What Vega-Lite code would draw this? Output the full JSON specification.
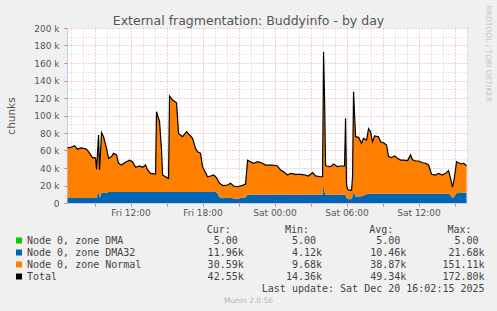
{
  "$schema": "https://vega.github.io/schema/vega-lite/v6.json",
  "width": 400,
  "height": 175,
  "autosize": {"type": "none"},
  "padding": {"left": 67, "top": 28, "right": 30, "bottom": 108},
  "background": "#F0F0F0",
  "config": {"view": {"fill": "#FFFFFF", "stroke": null}, "font": "DejaVu Sans"},
  "title": {"text": "External fragmentation: Buddyinfo - by day", "font": "DejaVu Sans", "fontSize": 12.5, "fontWeight": "normal", "color": "#555555", "anchor": "middle", "dx": -18.5, "offset": 0, "dy": 22.5},
  "datasets": {
    "buddy": [
      {"t": "2025-12-19T06:45", "DMA": 5, "DMA32": 5700, "Normal": 57295, "Total": 63000},
      {"t": "2025-12-19T07:00", "DMA": 5, "DMA32": 5700, "Normal": 57795, "Total": 63500},
      {"t": "2025-12-19T07:20", "DMA": 5, "DMA32": 5700, "Normal": 59795, "Total": 65500},
      {"t": "2025-12-19T07:35", "DMA": 5, "DMA32": 5700, "Normal": 55795, "Total": 61500},
      {"t": "2025-12-19T07:50", "DMA": 5, "DMA32": 5700, "Normal": 57295, "Total": 63000},
      {"t": "2025-12-19T08:05", "DMA": 5, "DMA32": 5700, "Normal": 56795, "Total": 62500},
      {"t": "2025-12-19T08:20", "DMA": 5, "DMA32": 5700, "Normal": 55795, "Total": 61500},
      {"t": "2025-12-19T08:35", "DMA": 5, "DMA32": 5700, "Normal": 51295, "Total": 57000},
      {"t": "2025-12-19T08:50", "DMA": 5, "DMA32": 5700, "Normal": 45795, "Total": 51500},
      {"t": "2025-12-19T09:00", "DMA": 5, "DMA32": 5700, "Normal": 46295, "Total": 52000},
      {"t": "2025-12-19T09:05", "DMA": 5, "DMA32": 5700, "Normal": 45295, "Total": 51000},
      {"t": "2025-12-19T09:10", "DMA": 5, "DMA32": 5700, "Normal": 32795, "Total": 38500},
      {"t": "2025-12-19T09:20", "DMA": 5, "DMA32": 13700, "Normal": 63995, "Total": 77700},
      {"t": "2025-12-19T09:25", "DMA": 5, "DMA32": 6000, "Normal": 31695, "Total": 37700},
      {"t": "2025-12-19T09:35", "DMA": 5, "DMA32": 11400, "Normal": 68995, "Total": 80400},
      {"t": "2025-12-19T09:45", "DMA": 5, "DMA32": 11400, "Normal": 64395, "Total": 75800},
      {"t": "2025-12-19T10:00", "DMA": 5, "DMA32": 11400, "Normal": 51095, "Total": 62500},
      {"t": "2025-12-19T10:10", "DMA": 5, "DMA32": 12600, "Normal": 38395, "Total": 51000},
      {"t": "2025-12-19T10:25", "DMA": 5, "DMA32": 12600, "Normal": 40395, "Total": 53000},
      {"t": "2025-12-19T10:35", "DMA": 5, "DMA32": 12600, "Normal": 44195, "Total": 56800},
      {"t": "2025-12-19T10:50", "DMA": 5, "DMA32": 12600, "Normal": 42395, "Total": 55000},
      {"t": "2025-12-19T11:00", "DMA": 5, "DMA32": 12600, "Normal": 32795, "Total": 45400},
      {"t": "2025-12-19T11:15", "DMA": 5, "DMA32": 12600, "Normal": 30795, "Total": 43400},
      {"t": "2025-12-19T11:30", "DMA": 5, "DMA32": 12600, "Normal": 33395, "Total": 46000},
      {"t": "2025-12-19T11:55", "DMA": 5, "DMA32": 12600, "Normal": 36395, "Total": 49000},
      {"t": "2025-12-19T12:10", "DMA": 5, "DMA32": 12600, "Normal": 34595, "Total": 47200},
      {"t": "2025-12-19T12:25", "DMA": 5, "DMA32": 12600, "Normal": 28195, "Total": 40800},
      {"t": "2025-12-19T12:45", "DMA": 5, "DMA32": 12600, "Normal": 29695, "Total": 42300},
      {"t": "2025-12-19T13:00", "DMA": 5, "DMA32": 12600, "Normal": 28195, "Total": 40800},
      {"t": "2025-12-19T13:15", "DMA": 5, "DMA32": 12600, "Normal": 30795, "Total": 43400},
      {"t": "2025-12-19T13:25", "DMA": 5, "DMA32": 12600, "Normal": 25095, "Total": 37700},
      {"t": "2025-12-19T13:40", "DMA": 5, "DMA32": 12600, "Normal": 21295, "Total": 33900},
      {"t": "2025-12-19T14:05", "DMA": 5, "DMA32": 12600, "Normal": 20395, "Total": 33000},
      {"t": "2025-12-19T14:10", "DMA": 5, "DMA32": 12600, "Normal": 91795, "Total": 104400},
      {"t": "2025-12-19T14:25", "DMA": 5, "DMA32": 12600, "Normal": 80395, "Total": 93000},
      {"t": "2025-12-19T14:35", "DMA": 5, "DMA32": 12600, "Normal": 47995, "Total": 60600},
      {"t": "2025-12-19T14:40", "DMA": 5, "DMA32": 12600, "Normal": 19395, "Total": 32000},
      {"t": "2025-12-19T15:00", "DMA": 5, "DMA32": 12600, "Normal": 16695, "Total": 29300},
      {"t": "2025-12-19T15:10", "DMA": 5, "DMA32": 12600, "Normal": 15595, "Total": 28200},
      {"t": "2025-12-19T15:15", "DMA": 5, "DMA32": 12600, "Normal": 109695, "Total": 122300},
      {"t": "2025-12-19T15:30", "DMA": 5, "DMA32": 12600, "Normal": 105095, "Total": 117700},
      {"t": "2025-12-19T15:50", "DMA": 5, "DMA32": 12600, "Normal": 101995, "Total": 114600},
      {"t": "2025-12-19T16:00", "DMA": 5, "DMA32": 12600, "Normal": 66995, "Total": 79600},
      {"t": "2025-12-19T16:20", "DMA": 5, "DMA32": 12600, "Normal": 63195, "Total": 75800},
      {"t": "2025-12-19T16:40", "DMA": 5, "DMA32": 12600, "Normal": 68895, "Total": 81500},
      {"t": "2025-12-19T16:55", "DMA": 5, "DMA32": 12600, "Normal": 65095, "Total": 77700},
      {"t": "2025-12-19T17:10", "DMA": 5, "DMA32": 12600, "Normal": 61295, "Total": 73900},
      {"t": "2025-12-19T17:25", "DMA": 5, "DMA32": 12600, "Normal": 49895, "Total": 62500},
      {"t": "2025-12-19T17:35", "DMA": 5, "DMA32": 12600, "Normal": 45995, "Total": 58600},
      {"t": "2025-12-19T17:50", "DMA": 5, "DMA32": 12600, "Normal": 44195, "Total": 56800},
      {"t": "2025-12-19T18:00", "DMA": 5, "DMA32": 12600, "Normal": 28895, "Total": 41500},
      {"t": "2025-12-19T18:25", "DMA": 5, "DMA32": 12600, "Normal": 17395, "Total": 30000},
      {"t": "2025-12-19T18:40", "DMA": 5, "DMA32": 12600, "Normal": 18295, "Total": 30900},
      {"t": "2025-12-19T18:55", "DMA": 5, "DMA32": 12600, "Normal": 19395, "Total": 32000},
      {"t": "2025-12-19T19:05", "DMA": 5, "DMA32": 12600, "Normal": 17395, "Total": 30000},
      {"t": "2025-12-19T19:15", "DMA": 5, "DMA32": 11000, "Normal": 15995, "Total": 27000},
      {"t": "2025-12-19T19:20", "DMA": 5, "DMA32": 8000, "Normal": 15995, "Total": 24000},
      {"t": "2025-12-19T19:30", "DMA": 5, "DMA32": 6000, "Normal": 15695, "Total": 21700},
      {"t": "2025-12-19T19:45", "DMA": 5, "DMA32": 5500, "Normal": 14295, "Total": 19800},
      {"t": "2025-12-19T20:05", "DMA": 5, "DMA32": 6200, "Normal": 14395, "Total": 20600},
      {"t": "2025-12-19T20:20", "DMA": 5, "DMA32": 6500, "Normal": 15995, "Total": 22500},
      {"t": "2025-12-19T20:35", "DMA": 5, "DMA32": 5000, "Normal": 14395, "Total": 19400},
      {"t": "2025-12-19T20:55", "DMA": 5, "DMA32": 4800, "Normal": 13795, "Total": 18600},
      {"t": "2025-12-19T21:20", "DMA": 5, "DMA32": 6000, "Normal": 14195, "Total": 20200},
      {"t": "2025-12-19T21:35", "DMA": 5, "DMA32": 6500, "Normal": 15195, "Total": 21700},
      {"t": "2025-12-19T21:45", "DMA": 5, "DMA32": 9300, "Normal": 39695, "Total": 49000},
      {"t": "2025-12-19T22:00", "DMA": 5, "DMA32": 9300, "Normal": 37895, "Total": 47200},
      {"t": "2025-12-19T22:15", "DMA": 5, "DMA32": 9300, "Normal": 36095, "Total": 45400},
      {"t": "2025-12-19T22:35", "DMA": 5, "DMA32": 9300, "Normal": 37895, "Total": 47200},
      {"t": "2025-12-19T23:00", "DMA": 5, "DMA32": 9300, "Normal": 36095, "Total": 45400},
      {"t": "2025-12-19T23:15", "DMA": 5, "DMA32": 9300, "Normal": 34095, "Total": 43400},
      {"t": "2025-12-19T23:50", "DMA": 5, "DMA32": 9300, "Normal": 34095, "Total": 43400},
      {"t": "2025-12-20T00:15", "DMA": 5, "DMA32": 9300, "Normal": 32995, "Total": 42300},
      {"t": "2025-12-20T00:30", "DMA": 5, "DMA32": 9300, "Normal": 28395, "Total": 37700},
      {"t": "2025-12-20T00:45", "DMA": 5, "DMA32": 9300, "Normal": 26495, "Total": 35800},
      {"t": "2025-12-20T01:05", "DMA": 5, "DMA32": 9300, "Normal": 22695, "Total": 32000},
      {"t": "2025-12-20T01:20", "DMA": 5, "DMA32": 9300, "Normal": 24595, "Total": 33900},
      {"t": "2025-12-20T01:45", "DMA": 5, "DMA32": 9300, "Normal": 23495, "Total": 32800},
      {"t": "2025-12-20T02:10", "DMA": 5, "DMA32": 9300, "Normal": 23495, "Total": 32800},
      {"t": "2025-12-20T02:35", "DMA": 5, "DMA32": 9300, "Normal": 22695, "Total": 32000},
      {"t": "2025-12-20T02:50", "DMA": 5, "DMA32": 9300, "Normal": 21595, "Total": 30900},
      {"t": "2025-12-20T03:10", "DMA": 5, "DMA32": 9300, "Normal": 25395, "Total": 34700},
      {"t": "2025-12-20T03:25", "DMA": 5, "DMA32": 9300, "Normal": 21595, "Total": 30900},
      {"t": "2025-12-20T03:50", "DMA": 5, "DMA32": 9300, "Normal": 20695, "Total": 30000},
      {"t": "2025-12-20T04:00", "DMA": 5, "DMA32": 9300, "Normal": 20695, "Total": 30000},
      {"t": "2025-12-20T04:05", "DMA": 5, "DMA32": 21680, "Normal": 151115, "Total": 172800},
      {"t": "2025-12-20T04:10", "DMA": 5, "DMA32": 12000, "Normal": 107995, "Total": 120000},
      {"t": "2025-12-20T04:15", "DMA": 5, "DMA32": 9500, "Normal": 33495, "Total": 43000},
      {"t": "2025-12-20T04:20", "DMA": 5, "DMA32": 9500, "Normal": 32795, "Total": 42300},
      {"t": "2025-12-20T04:40", "DMA": 5, "DMA32": 9500, "Normal": 31995, "Total": 41500},
      {"t": "2025-12-20T04:55", "DMA": 5, "DMA32": 9500, "Normal": 35095, "Total": 44600},
      {"t": "2025-12-20T05:15", "DMA": 5, "DMA32": 9500, "Normal": 31995, "Total": 41500},
      {"t": "2025-12-20T05:30", "DMA": 5, "DMA32": 9500, "Normal": 32795, "Total": 42300},
      {"t": "2025-12-20T05:50", "DMA": 5, "DMA32": 9500, "Normal": 32795, "Total": 42300},
      {"t": "2025-12-20T05:55", "DMA": 5, "DMA32": 9000, "Normal": 87795, "Total": 96800},
      {"t": "2025-12-20T06:00", "DMA": 5, "DMA32": 6000, "Normal": 13995, "Total": 20000},
      {"t": "2025-12-20T06:05", "DMA": 5, "DMA32": 5000, "Normal": 10995, "Total": 16000},
      {"t": "2025-12-20T06:10", "DMA": 5, "DMA32": 4200, "Normal": 10795, "Total": 15000},
      {"t": "2025-12-20T06:25", "DMA": 5, "DMA32": 4500, "Normal": 9895, "Total": 14400},
      {"t": "2025-12-20T06:30", "DMA": 5, "DMA32": 8000, "Normal": 21995, "Total": 30000},
      {"t": "2025-12-20T06:35", "DMA": 5, "DMA32": 13000, "Normal": 114195, "Total": 127200},
      {"t": "2025-12-20T06:45", "DMA": 5, "DMA32": 7500, "Normal": 68295, "Total": 75800},
      {"t": "2025-12-20T07:00", "DMA": 5, "DMA32": 7500, "Normal": 67495, "Total": 75000},
      {"t": "2025-12-20T07:15", "DMA": 5, "DMA32": 7800, "Normal": 60395, "Total": 68200},
      {"t": "2025-12-20T07:25", "DMA": 5, "DMA32": 8500, "Normal": 65395, "Total": 73900},
      {"t": "2025-12-20T07:40", "DMA": 5, "DMA32": 10000, "Normal": 61995, "Total": 72000},
      {"t": "2025-12-20T07:50", "DMA": 5, "DMA32": 10500, "Normal": 74495, "Total": 85000},
      {"t": "2025-12-20T08:00", "DMA": 5, "DMA32": 10500, "Normal": 70995, "Total": 81500},
      {"t": "2025-12-20T08:10", "DMA": 5, "DMA32": 10500, "Normal": 59495, "Total": 70000},
      {"t": "2025-12-20T08:20", "DMA": 5, "DMA32": 10500, "Normal": 66095, "Total": 76600},
      {"t": "2025-12-20T08:40", "DMA": 5, "DMA32": 10500, "Normal": 65295, "Total": 75800},
      {"t": "2025-12-20T08:50", "DMA": 5, "DMA32": 10500, "Normal": 59495, "Total": 70000},
      {"t": "2025-12-20T09:05", "DMA": 5, "DMA32": 10500, "Normal": 58395, "Total": 68900},
      {"t": "2025-12-20T09:20", "DMA": 5, "DMA32": 10500, "Normal": 55795, "Total": 66300},
      {"t": "2025-12-20T09:30", "DMA": 5, "DMA32": 10500, "Normal": 42495, "Total": 53000},
      {"t": "2025-12-20T09:45", "DMA": 5, "DMA32": 10500, "Normal": 41295, "Total": 51800},
      {"t": "2025-12-20T10:00", "DMA": 5, "DMA32": 10500, "Normal": 43195, "Total": 53700},
      {"t": "2025-12-20T10:15", "DMA": 5, "DMA32": 10500, "Normal": 40495, "Total": 51000},
      {"t": "2025-12-20T10:30", "DMA": 5, "DMA32": 10500, "Normal": 38495, "Total": 49000},
      {"t": "2025-12-20T10:45", "DMA": 5, "DMA32": 10500, "Normal": 38495, "Total": 49000},
      {"t": "2025-12-20T11:05", "DMA": 5, "DMA32": 10500, "Normal": 37895, "Total": 48400},
      {"t": "2025-12-20T11:20", "DMA": 5, "DMA32": 10500, "Normal": 44395, "Total": 54900},
      {"t": "2025-12-20T11:30", "DMA": 5, "DMA32": 10500, "Normal": 38995, "Total": 49500},
      {"t": "2025-12-20T11:45", "DMA": 5, "DMA32": 10500, "Normal": 37495, "Total": 48000},
      {"t": "2025-12-20T12:00", "DMA": 5, "DMA32": 10500, "Normal": 37495, "Total": 48000},
      {"t": "2025-12-20T12:20", "DMA": 5, "DMA32": 10500, "Normal": 35495, "Total": 46000},
      {"t": "2025-12-20T12:35", "DMA": 5, "DMA32": 10500, "Normal": 34895, "Total": 45400},
      {"t": "2025-12-20T12:50", "DMA": 5, "DMA32": 10500, "Normal": 32895, "Total": 43400},
      {"t": "2025-12-20T13:05", "DMA": 5, "DMA32": 10500, "Normal": 22295, "Total": 32800},
      {"t": "2025-12-20T13:25", "DMA": 5, "DMA32": 10500, "Normal": 21495, "Total": 32000},
      {"t": "2025-12-20T13:40", "DMA": 5, "DMA32": 10500, "Normal": 23395, "Total": 33900},
      {"t": "2025-12-20T14:00", "DMA": 5, "DMA32": 10500, "Normal": 21495, "Total": 32000},
      {"t": "2025-12-20T14:15", "DMA": 5, "DMA32": 10500, "Normal": 23395, "Total": 33900},
      {"t": "2025-12-20T14:30", "DMA": 5, "DMA32": 10500, "Normal": 26495, "Total": 37000},
      {"t": "2025-12-20T14:40", "DMA": 5, "DMA32": 9000, "Normal": 19195, "Total": 28200},
      {"t": "2025-12-20T14:50", "DMA": 5, "DMA32": 5400, "Normal": 12595, "Total": 18000},
      {"t": "2025-12-20T15:00", "DMA": 5, "DMA32": 8000, "Normal": 21995, "Total": 30000},
      {"t": "2025-12-20T15:10", "DMA": 5, "DMA32": 11000, "Normal": 36195, "Total": 47200},
      {"t": "2025-12-20T15:20", "DMA": 5, "DMA32": 11300, "Normal": 34695, "Total": 46000},
      {"t": "2025-12-20T15:35", "DMA": 5, "DMA32": 11500, "Normal": 33095, "Total": 44600},
      {"t": "2025-12-20T15:45", "DMA": 5, "DMA32": 11800, "Normal": 33595, "Total": 45400},
      {"t": "2025-12-20T16:00", "DMA": 5, "DMA32": 11960, "Normal": 30585, "Total": 42550}
    ]
  },
  "data": {"name": "buddy"},
  "layer": [
    {
      "transform": [{"fold": ["DMA", "DMA32", "Normal"], "as": ["zone", "chunks"]}],
      "mark": {"type": "area", "interpolate": "linear"},
      "encoding": {
        "x": {
          "field": "t", "type": "temporal",
          "scale": {"domain": [{"year": 2025, "month": 12, "date": 19, "hours": 6, "minutes": 42, "seconds": 15}, {"year": 2025, "month": 12, "date": 20, "hours": 16, "minutes": 2, "seconds": 15}]},
          "axis": {
            "orient": "bottom",
            "values": [
              {"year": 2025, "month": 12, "date": 19, "hours": 7}, {"year": 2025, "month": 12, "date": 19, "hours": 8},
              {"year": 2025, "month": 12, "date": 19, "hours": 10}, {"year": 2025, "month": 12, "date": 19, "hours": 11},
              {"year": 2025, "month": 12, "date": 19, "hours": 13}, {"year": 2025, "month": 12, "date": 19, "hours": 14},
              {"year": 2025, "month": 12, "date": 19, "hours": 16}, {"year": 2025, "month": 12, "date": 19, "hours": 17},
              {"year": 2025, "month": 12, "date": 19, "hours": 19}, {"year": 2025, "month": 12, "date": 19, "hours": 20},
              {"year": 2025, "month": 12, "date": 19, "hours": 22}, {"year": 2025, "month": 12, "date": 19, "hours": 23},
              {"year": 2025, "month": 12, "date": 20, "hours": 1}, {"year": 2025, "month": 12, "date": 20, "hours": 2},
              {"year": 2025, "month": 12, "date": 20, "hours": 4}, {"year": 2025, "month": 12, "date": 20, "hours": 5},
              {"year": 2025, "month": 12, "date": 20, "hours": 7}, {"year": 2025, "month": 12, "date": 20, "hours": 8},
              {"year": 2025, "month": 12, "date": 20, "hours": 10}, {"year": 2025, "month": 12, "date": 20, "hours": 11},
              {"year": 2025, "month": 12, "date": 20, "hours": 13}, {"year": 2025, "month": 12, "date": 20, "hours": 14},
              {"year": 2025, "month": 12, "date": 20, "hours": 16}
            ],
            "grid": true, "gridColor": "#CFCFCF", "gridDash": [1, 2],
            "labels": false, "ticks": false, "domain": false,
            "title": "Munin 2.0.56", "titleX": 181, "titleY": 97, "titleAlign": "center", "titleBaseline": "middle",
            "titleFont": "DejaVu Sans", "titleFontSize": 7.5, "titleFontWeight": "normal", "titleColor": "#B4B4B4"
          }
        },
        "y": {
          "field": "chunks", "type": "quantitative", "stack": "zero",
          "scale": {"domain": [0, 200000], "nice": false},
          "axis": {
            "orient": "right",
            "values": [10000, 30000, 50000, 70000, 90000, 110000, 130000, 150000, 170000, 190000],
            "grid": true, "gridColor": "#CFCFCF", "gridDash": [1, 2],
            "labels": false, "ticks": false, "domain": false,
            "title": "RRDTOOL / TOBI OETIKER", "titleAngle": 90, "titleX": 20.5, "titleY": -23, "titleAlign": "left", "titleBaseline": "middle",
            "titleFont": "DejaVu Sans", "titleFontSize": 7.5, "titleFontWeight": "normal", "titleColor": "#C4C4C4"
          }
        },
        "order": {"field": "zone", "sort": "ascending"},
        "color": {
          "field": "zone", "type": "nominal",
          "scale": {"domain": ["DMA", "DMA32", "Normal", "Total", "upd"], "range": ["#00CC00", "#0066B3", "#FF8000", "#000000", "#F0F0F0"]},
          "legend": {
            "orient": "none", "legendX": -53, "legendY": 196.5, "padding": 0,
            "title": "\u200b\u00a0\u00a0\u00a0\u00a0\u00a0\u00a0\u00a0\u00a0\u00a0\u00a0\u00a0\u00a0\u00a0\u00a0\u00a0\u00a0\u00a0\u00a0\u00a0\u00a0\u00a0\u00a0\u00a0\u00a0\u00a0\u00a0\u00a0\u00a0\u00a0\u00a0\u00a0\u00a0Cur:\u00a0\u00a0\u00a0\u00a0\u00a0\u00a0\u00a0\u00a0\u00a0Min:\u00a0\u00a0\u00a0\u00a0\u00a0\u00a0\u00a0\u00a0\u00a0\u00a0Avg:\u00a0\u00a0\u00a0\u00a0\u00a0\u00a0\u00a0\u00a0\u00a0Max:",
            "titleFont": "DejaVu Sans Mono", "titleFontSize": 10, "titleFontWeight": "normal", "titleColor": "#444444", "titleLimit": 1000, "titlePadding": 1,
            "labelFont": "DejaVu Sans Mono", "labelFontSize": 10, "labelColor": "#444444", "labelLimit": 1000, "labelOffset": 3,
            "symbolType": "square", "symbolSize": 36, "symbolStrokeWidth": 0, "symbolOpacity": 1,
            "rowPadding": 2,
            "labelExpr": "datum.label == 'DMA' ? 'Node 0, zone DMA\u00a0\u00a0\u00a0\u00a0\u00a0\u00a0\u00a0\u00a0\u00a0\u00a0\u00a0\u00a0\u00a0\u00a0\u00a05.00\u00a0\u00a0\u00a0\u00a0\u00a0\u00a0\u00a0\u00a0\u00a05.00\u00a0\u00a0\u00a0\u00a0\u00a0\u00a0\u00a0\u00a0\u00a0\u00a05.00\u00a0\u00a0\u00a0\u00a0\u00a0\u00a0\u00a0\u00a0\u00a05.00' : datum.label == 'DMA32' ? 'Node 0, zone DMA32\u00a0\u00a0\u00a0\u00a0\u00a0\u00a0\u00a0\u00a0\u00a0\u00a0\u00a0\u00a011.96k\u00a0\u00a0\u00a0\u00a0\u00a0\u00a0\u00a0\u00a04.12k\u00a0\u00a0\u00a0\u00a0\u00a0\u00a0\u00a0\u00a010.46k\u00a0\u00a0\u00a0\u00a0\u00a0\u00a0\u00a021.68k' : datum.label == 'Normal' ? 'Node 0, zone Normal\u00a0\u00a0\u00a0\u00a0\u00a0\u00a0\u00a0\u00a0\u00a0\u00a0\u00a030.59k\u00a0\u00a0\u00a0\u00a0\u00a0\u00a0\u00a0\u00a09.68k\u00a0\u00a0\u00a0\u00a0\u00a0\u00a0\u00a0\u00a038.87k\u00a0\u00a0\u00a0\u00a0\u00a0\u00a0151.11k' : datum.label == 'Total' ? 'Total\u00a0\u00a0\u00a0\u00a0\u00a0\u00a0\u00a0\u00a0\u00a0\u00a0\u00a0\u00a0\u00a0\u00a0\u00a0\u00a0\u00a0\u00a0\u00a0\u00a0\u00a0\u00a0\u00a0\u00a0\u00a042.55k\u00a0\u00a0\u00a0\u00a0\u00a0\u00a0\u00a014.36k\u00a0\u00a0\u00a0\u00a0\u00a0\u00a0\u00a0\u00a049.34k\u00a0\u00a0\u00a0\u00a0\u00a0\u00a0172.80k' : '\u200b\u00a0\u00a0\u00a0\u00a0\u00a0\u00a0\u00a0\u00a0\u00a0\u00a0\u00a0\u00a0\u00a0\u00a0\u00a0\u00a0\u00a0\u00a0\u00a0\u00a0\u00a0\u00a0\u00a0\u00a0\u00a0\u00a0\u00a0\u00a0\u00a0\u00a0\u00a0\u00a0\u00a0\u00a0\u00a0\u00a0\u00a0\u00a0\u00a0Last update: Sat Dec 20 16:02:15 2025'"
          }
        }
      }
    },
    {
      "mark": {"type": "line", "color": "#000000", "strokeWidth": 1.2, "interpolate": "linear"},
      "encoding": {
        "x": {
          "field": "t", "type": "temporal",
          "axis": {
            "orient": "bottom", "title": null,
            "values": [
              {"year": 2025, "month": 12, "date": 19, "hours": 9}, {"year": 2025, "month": 12, "date": 19, "hours": 12},
              {"year": 2025, "month": 12, "date": 19, "hours": 15}, {"year": 2025, "month": 12, "date": 19, "hours": 18},
              {"year": 2025, "month": 12, "date": 19, "hours": 21}, {"year": 2025, "month": 12, "date": 20, "hours": 0},
              {"year": 2025, "month": 12, "date": 20, "hours": 3}, {"year": 2025, "month": 12, "date": 20, "hours": 6},
              {"year": 2025, "month": 12, "date": 20, "hours": 9}, {"year": 2025, "month": 12, "date": 20, "hours": 12},
              {"year": 2025, "month": 12, "date": 20, "hours": 15}
            ],
            "labelExpr": "hours(datum.value) % 6 == 0 ? timeFormat(datum.value, '%a %H:%M') : ''",
            "labelFont": "DejaVu Sans", "labelFontSize": 9, "labelColor": "#555555",
            "labelOverlap": false, "labelFlush": false, "labelPadding": 2,
            "grid": true, "gridColor": "#E8A0A0", "gridDash": [1, 2],
            "ticks": true, "tickSize": 3, "tickColor": "#E07070",
            "domain": true, "domainColor": "#C8C8F0"
          }
        },
        "y": {
          "field": "Total", "type": "quantitative",
          "axis": {
            "orient": "left", "title": "chunks",
            "values": [0, 20000, 40000, 60000, 80000, 100000, 120000, 140000, 160000, 180000, 200000],
            "labelExpr": "datum.value == 0 ? '0\u00a0\u00a0' : format(datum.value / 1000, 'd') + ' k'",
            "labelFont": "DejaVu Sans", "labelFontSize": 9, "labelColor": "#555555",
            "labelOverlap": false, "labelPadding": 5,
            "grid": true, "gridColor": "#E8A0A0", "gridDash": [1, 2],
            "ticks": true, "tickSize": 3, "tickColor": "#E07070",
            "domain": true, "domainColor": "#C8C8F0",
            "titlePadding": 17.5,
            "titleFont": "DejaVu Sans", "titleFontSize": 10.5, "titleFontWeight": "normal", "titleColor": "#555555"
          }
        }
      }
    }
  ],
  "resolve": {"axis": {"x": "independent", "y": "independent"}}
}
